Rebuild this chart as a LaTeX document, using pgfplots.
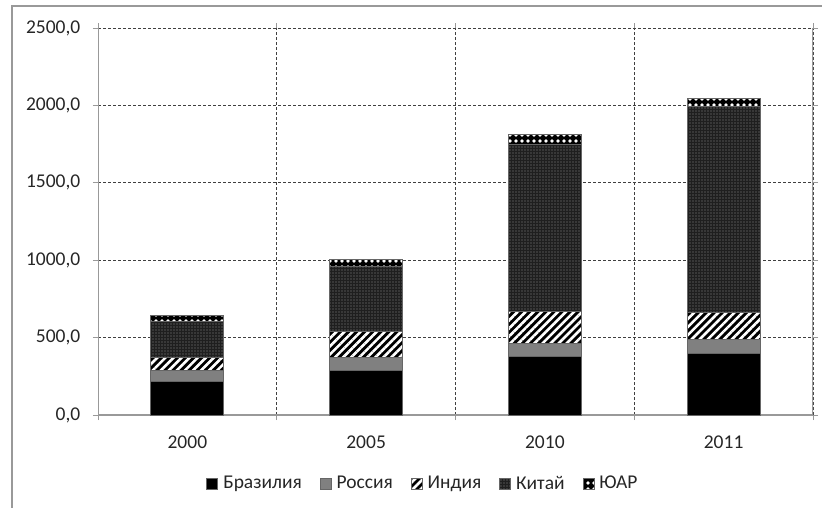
\documentclass[border=0pt]{standalone}
\usepackage{fontspec}
\setmainfont{Carlito}
\usepackage{pgfplots}
\pgfplotsset{compat=1.18}
\usetikzlibrary{patterns.meta}

\pgfplotsset{sqlegend/.style={legend image code/.code={\draw[##1,draw=black!60,line width=0.8pt] (0pt,-5.5pt) rectangle (11pt,5.5pt);}}}

\begin{document}
\fontsize{19.5pt}{23pt}\selectfont
\begin{tikzpicture}
\useasboundingbox (0pt,0pt) rectangle (822pt,-507pt);
\draw[black!40, line width=1.5pt] (12pt,-520pt) -- (12pt,-6pt) -- (830pt,-6pt);
\begin{axis}[
  at={(98pt,-415pt)}, anchor=south west,
  scale only axis, width=715pt, height=387pt,
  ybar stacked, bar width=73pt,
  xmin=-0.5, xmax=3.5, ymin=0, ymax=2500,
  xtick={0,1,2,3}, xticklabels={2000,2005,2010,2011},
  major x tick style={draw=none},
  minor xtick={-0.5,0.5,1.5,2.5,3.5},
  minor x tick style={black!40, line width=1pt},
  xminorgrids,
  ytick={0,500,...,2500},
  ymajorgrids,
  grid style={black!75, dash pattern=on 3pt off 2pt, line width=0.9pt},
  minor grid style={black!75, dash pattern=on 3pt off 2pt, line width=0.9pt},
  axis line style={draw=none},
  tick align=outside,
  major y tick style={black!40, line width=1pt},
  major tick length=5pt, minor tick length=5pt,
  tick label style={text=black!85},
  xticklabel style={yshift=-9pt},
  yticklabel style={xshift=-6pt},
  y tick label style={/pgf/number format/.cd, fixed, fixed zerofill, precision=1, use comma, 1000 sep={}, assume math mode=true},
  legend columns=-1,
  legend style={at={(0.4545,-0.178)}, anchor=center, draw=none, fill=none, text=black!85,
    /tikz/every odd column/.append style={column sep=3pt},
    /tikz/every even column/.append style={column sep=16pt}},
]
\addplot[sqlegend, fill=black, draw=black!60, line width=0.8pt] coordinates {(0,215) (1,286) (2,381) (3,399)};
\addplot[sqlegend, fill=black!50, draw=black!60, line width=0.8pt] coordinates {(0,75) (1,87) (2,82) (3,90)};
\addplot[sqlegend, fill=black, draw=black!60, line width=0.8pt,
  postaction={pattern={Lines[angle=45,distance=5.7pt,line width=2.6pt]}, pattern color=white}] coordinates {(0,82) (1,165) (2,204) (3,172)};
\addplot[sqlegend, fill=black!88, draw=black!60, line width=0.8pt,
  postaction={pattern={Dots[distance=3pt,radius=0.6pt]}, pattern color=black!45}] coordinates {(0,230) (1,424) (2,1083) (3,1331)};
\addplot[sqlegend, fill=black, draw=black!60, line width=0.8pt,
  postaction={pattern={Dots[distance=6pt,radius=1.8pt]}, pattern color=white}] coordinates {(0,40) (1,44) (2,63) (3,55)};
\legend{Бразилия, Россия, Индия, Китай, ЮАР}
\draw[black!40, line width=1.2pt] (rel axis cs:0,1) -- (rel axis cs:0,0) -- (rel axis cs:1,0) -- (rel axis cs:1,1);
\end{axis}
\end{tikzpicture}
\end{document}
